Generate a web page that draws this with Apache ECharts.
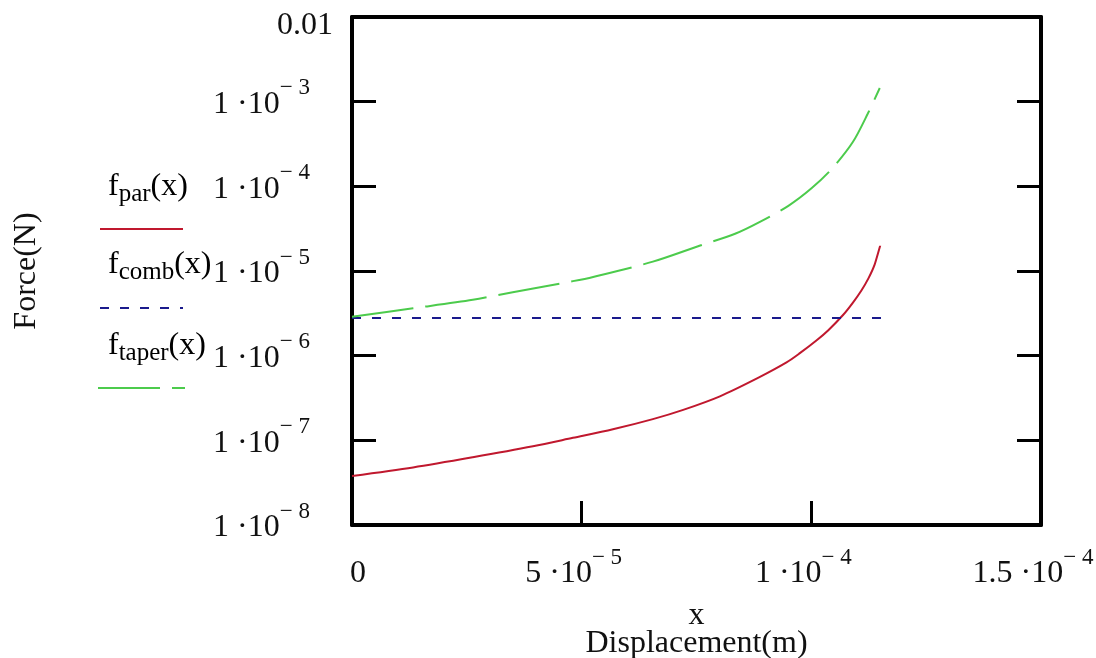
<!DOCTYPE html>
<html>
<head>
<meta charset="utf-8">
<script src="https://cdn.jsdelivr.net/npm/echarts@6/dist/echarts.min.js"></script>
<style>
  html, body { margin: 0; background: #fff; }
  #chart { width: 1096px; height: 658px; }
</style>
</head>
<body>
<div id="chart"></div>
<script>
// f_par(x): red solid
var xPar = [0, 1.33e-5, 2.63e-5, 3.94e-5, 4.81e-5, 5.68e-5, 6.55e-5, 7.21e-5, 8.01e-5, 8.85e-5,
  9.46e-5, 9.75e-5, 1.011e-4, 1.037e-4, 1.069e-4, 1.091e-4, 1.109e-4, 1.124e-4, 1.138e-4, 1.150e-4]
var fPar = [3.80e-8, 4.79e-8, 6.31e-8, 8.51e-8, 1.07e-7, 1.35e-7, 1.78e-7, 2.29e-7, 3.31e-7, 5.50e-7,
  8.32e-7, 1.07e-6, 1.51e-6, 2.00e-6, 3.02e-6, 4.27e-6, 5.89e-6, 8.13e-6, 1.20e-5, 2.00e-5]

// f_comb(x): blue dashed, constant
var xComb = [0, 1.16e-4]
var fComb = [2.78e-6, 2.78e-6]

// f_taper(x): green long dash
var xTaper = [0, 1.33e-5, 2.63e-5, 3.50e-5, 4.81e-5, 5.25e-5, 6.55e-5, 7.58e-5, 8.34e-5, 8.88e-5,
  9.50e-5, 1.001e-4, 1.045e-4, 1.090e-4, 1.123e-4, 1.149e-4]
var fTaper = [2.88e-6, 3.63e-6, 4.57e-6, 5.62e-6, 7.59e-6, 8.51e-6, 1.29e-5, 2.00e-5, 2.75e-5, 3.80e-5,
  5.89e-5, 9.55e-5, 1.62e-4, 3.31e-4, 7.24e-4, 1.45e-3]

// tick labels (Mathcad style: mantissa + raised exponent)
var xTickMain = ['0', '5 \u00b710', '1 \u00b710', '1.5 \u00b710']
var xTickSup = ['', '\u2212 5', '\u2212 4', '\u2212 4']
var yTickMain = ['1 \u00b710', '1 \u00b710', '1 \u00b710', '1 \u00b710', '1 \u00b710', '1 \u00b710', '0.01']
var yTickSup = ['\u2212 8', '\u2212 7', '\u2212 6', '\u2212 5', '\u2212 4', '\u2212 3', '']

var serif = '"Liberation Serif", "DejaVu Serif", serif'
var parColor = '#c0182e'
var combColor = '#1a1a8c'
var taperColor = '#4ccb4c'

function pairs (xs, ys) {
  return xs.map(function (x, i) { return [x, ys[i]] })
}

function supRich (padRight) {
  return {
    m: { fontFamily: serif, fontSize: 32, lineHeight: 56, color: '#111', verticalAlign: 'middle' },
    s: { fontFamily: serif, fontSize: 23, lineHeight: 23, color: '#111', verticalAlign: 'top', padding: [0, padRight, 0, 0] },
    z: { fontFamily: serif, fontSize: 32, lineHeight: 56, color: '#111', padding: [0, 0, 0, 12] },
    p: { fontFamily: serif, fontSize: 32, lineHeight: 32, color: '#111', padding: [12, 0, 0, 0] }
  }
}

var legendRich = {
  f: { fontFamily: serif, fontSize: 32, lineHeight: 40, color: '#111', verticalAlign: 'middle' },
  b: { fontFamily: serif, fontSize: 25, lineHeight: 24, color: '#111', verticalAlign: 'bottom' }
}

var chart = echarts.init(document.getElementById('chart'))
chart.setOption({
  animation: false,
  backgroundColor: '#fff',
  grid: { left: 352, right: 55, top: 17, bottom: 133, outerBoundsMode: 'none', containLabel: false },
  xAxis: [
    {
      type: 'value',
      min: 0,
      max: 1.5e-4,
      interval: 5e-5,
      name: 'x\nDisplacement(m)',
      nameLocation: 'middle',
      nameGap: 77,
      nameTextStyle: { fontFamily: serif, fontSize: 32, lineHeight: 28, color: '#111' },
      axisLine: { onZero: false, lineStyle: { color: '#000', width: 4 } },
      axisTick: { inside: true, length: 24, lineStyle: { color: '#000', width: 3 } },
      splitLine: { show: false },
      axisLabel: {
        margin: 21,
        rich: supRich(16),
        formatter: function (v) {
          var i = Math.round(v / 5e-5)
          if (i === 0) return '{z|' + xTickMain[0] + '}'
          return '{m|' + xTickMain[i] + '}{s|' + xTickSup[i] + '}'
        }
      }
    },
    {
      type: 'value',
      position: 'top',
      min: 0,
      max: 1.5e-4,
      interval: 5e-5,
      axisLine: { show: true, onZero: false, lineStyle: { color: '#000', width: 4 } },
      axisTick: { show: false },
      axisLabel: { show: false },
      splitLine: { show: false }
    }
  ],
  yAxis: [
    {
      type: 'log',
      logBase: 10,
      min: 1e-8,
      max: 0.01,
      interval: 1,
      name: 'Force(N)',
      nameLocation: 'middle',
      nameGap: 307,
      nameTextStyle: { fontFamily: serif, fontSize: 32, lineHeight: 36, color: '#111' },
      axisLine: { show: true, onZero: false, lineStyle: { color: '#000', width: 4 } },
      axisTick: { show: true, inside: true, length: 24, lineStyle: { color: '#000', width: 3 } },
      splitLine: { show: false },
      axisLabel: {
        margin: 19,
        padding: [6, 0, 0, 0],
        rich: supRich(23),
        formatter: function (v) {
          var i = Math.round(Math.log10(v)) + 8
          if (!yTickSup[i]) return '{p|' + yTickMain[i] + '}'
          return '{m|' + yTickMain[i] + '}{s|' + yTickSup[i] + '}'
        }
      }
    },
    {
      type: 'log',
      logBase: 10,
      min: 1e-8,
      max: 0.01,
      interval: 1,
      position: 'right',
      axisLine: { show: true, onZero: false, lineStyle: { color: '#000', width: 4 } },
      axisTick: { show: true, inside: true, length: 24, lineStyle: { color: '#000', width: 3 } },
      axisLabel: { show: false },
      splitLine: { show: false }
    }
  ],
  series: [
    {
      name: 'f_par(x)',
      type: 'line',
      data: pairs(xPar, fPar),
      showSymbol: false,
      smooth: 0.3,
      lineStyle: { color: parColor, width: 2 }
    },
    {
      name: 'f_comb(x)',
      type: 'line',
      data: pairs(xComb, fComb),
      showSymbol: false,
      lineStyle: { color: combColor, width: 2, type: [9, 11] }
    },
    {
      name: 'f_taper(x)',
      type: 'line',
      data: pairs(xTaper, fTaper),
      showSymbol: false,
      smooth: 0.3,
      lineStyle: { color: taperColor, width: 2, type: [62, 12] }
    }
  ],
  graphic: [
    { type: 'text', left: 108, top: 171, style: { text: '{f|f}{b|par}{f|(x)}', rich: legendRich } },
    { type: 'line', shape: { x1: 100, y1: 229, x2: 183, y2: 229 }, style: { stroke: parColor, lineWidth: 2 } },
    { type: 'text', left: 108, top: 249, style: { text: '{f|f}{b|comb}{f|(x)}', rich: legendRich } },
    { type: 'line', shape: { x1: 100, y1: 308, x2: 183, y2: 308 }, style: { stroke: combColor, lineWidth: 2, lineDash: [9, 11] } },
    { type: 'text', left: 108, top: 330, style: { text: '{f|f}{b|taper}{f|(x)}', rich: legendRich } },
    { type: 'line', shape: { x1: 98, y1: 388, x2: 185, y2: 388 }, style: { stroke: taperColor, lineWidth: 2, lineDash: [62, 12] } }
  ]
})
</script>
</body>
</html>
